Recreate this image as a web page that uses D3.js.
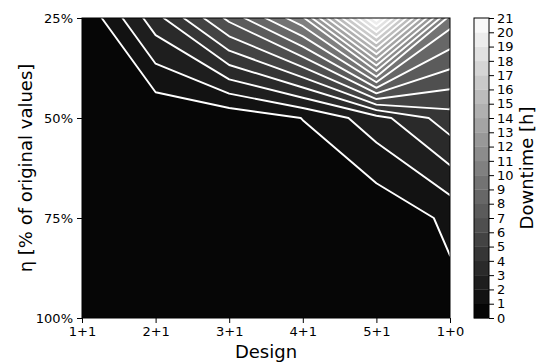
<!DOCTYPE html>
<html>
<head>
<meta charset="utf-8">
<script src="https://cdn.jsdelivr.net/npm/d3@7"></script>
<style>
  body { margin: 0; background: #fff; }
  svg { font-family: "DejaVu Sans", sans-serif; }
  .tick text { font-family: "DejaVu Sans", sans-serif; font-size: 13px; fill: #000; }
  .tick line { stroke: #000; stroke-width: 1; }
  .domain { display: none; }
</style>
</head>
<body>
<svg id="chart" width="538" height="363"></svg>
<script>
(function () {
  'use strict';

  // Designs along x, efficiency rows along y
  var designs = ['1+1', '2+1', '3+1', '4+1', '5+1', '1+0'];
  var etas = [25, 50, 75, 100];

  // Downtime [h] per row (one value per design)
  var downtime25 = [0.05, 3.6, 7.28, 10.8, 20.5, 9.55];
  var downtime50 = [0.01, 0.1, 0.3, 1.02, 2.6, 4.57];
  var downtime75 = [0.0, 0.02, 0.05, 0.1, 0.15, 1.24];
  var downtime100 = [0.0, 0.0, 0.01, 0.02, 0.05, 0.6];

  var levels = d3.range(0, 22);
  var etaTicks = [25, 50, 75, 100];

  var svg = d3.select('#chart');
  var left = 82, right = 450, top = 18, bottom = 318;

  var x = d3.scaleLinear().domain([0, designs.length - 1]).range([left, right]);
  var y = d3.scaleLinear().domain([25, 100]).range([top, bottom]);
  var rowY = d3.scaleLinear().domain([0, etas.length - 1])
    .range([y(etas[0]), y(etas[etas.length - 1])]);

  // matplotlib 'gray' colour for each filled band
  function bandColor(k) {
    var v = (k + 0.5) / (levels[levels.length - 1] - levels[0]);
    var c = Math.min(255, Math.floor(v * 256));
    return d3.rgb(c, c, c).toString();
  }

  var grid = [].concat(downtime25, downtime50, downtime75, downtime100);
  var contours = d3.contours()
    .size([designs.length, etas.length])
    .thresholds(levels.slice(0, -1))(grid);

  // grid node i sits at contour coordinate i + 0.5
  var transform = d3.geoTransform({
    point: function (px, py) {
      this.stream.point(x(px - 0.5), rowY(py - 0.5));
    }
  });
  var path = d3.geoPath().projection(transform);

  svg.append('clipPath').attr('id', 'plotClip')
    .append('rect')
      .attr('x', left).attr('y', top)
      .attr('width', right - left).attr('height', bottom - top);

  var g = svg.append('g').attr('clip-path', 'url(#plotClip)');

  g.selectAll('path.band')
    .data(contours)
    .enter().append('path')
      .attr('class', 'band')
      .attr('d', path)
      .style('fill', function (d, i) { return bandColor(i); })
      .style('stroke', function (d, i) { return bandColor(i); })
      .style('stroke-width', 0.4);

  g.selectAll('path.iso')
    .data(contours.filter(function (d) { return d.value > 0; }))
    .enter().append('path')
      .attr('class', 'iso')
      .attr('d', path)
      .style('fill', 'none')
      .style('stroke', '#fff')
      .style('stroke-width', 1.9)
      .style('stroke-linejoin', 'round');

  // Axes
  svg.append('g')
    .attr('transform', 'translate(0,' + bottom + ')')
    .call(d3.axisBottom(x)
      .tickValues(d3.range(designs.length))
      .tickFormat(function (i) { return designs[i]; })
      .tickSize(5).tickPadding(4));

  svg.append('g')
    .attr('transform', 'translate(' + left + ',0)')
    .call(d3.axisLeft(y)
      .tickValues(etaTicks)
      .tickFormat(function (d) { return d + '%'; })
      .tickSize(5).tickPadding(4));

  svg.append('rect')
    .attr('x', left).attr('y', top)
    .attr('width', right - left).attr('height', bottom - top)
    .style('fill', 'none').style('stroke', '#000').style('stroke-width', 1);

  svg.append('text')
    .attr('x', (left + right) / 2).attr('y', 358)
    .attr('text-anchor', 'middle')
    .style('font-size', '18px')
    .text('Design');

  svg.append('text')
    .attr('transform', 'translate(32,' + ((top + bottom) / 2) + ') rotate(-90)')
    .attr('text-anchor', 'middle')
    .style('font-size', '18px')
    .text('η [% of original values]');

  // Colorbar
  var cbLeft = 474, cbRight = 489;
  var cb = d3.scaleLinear().domain([levels[0], levels[levels.length - 1]]).range([bottom, top]);

  svg.append('g').selectAll('rect')
    .data(levels.slice(0, -1))
    .enter().append('rect')
      .attr('x', cbLeft)
      .attr('y', function (d) { return cb(d + 1); })
      .attr('width', cbRight - cbLeft)
      .attr('height', function (d) { return cb(d) - cb(d + 1) + 0.3; })
      .style('fill', function (d, i) { return bandColor(i); });

  svg.append('rect')
    .attr('x', cbLeft).attr('y', top)
    .attr('width', cbRight - cbLeft).attr('height', bottom - top)
    .style('fill', 'none').style('stroke', '#000').style('stroke-width', 1);

  svg.append('g')
    .attr('transform', 'translate(' + cbRight + ',0)')
    .call(d3.axisRight(cb).tickValues(levels).tickSize(5).tickPadding(3));

  svg.append('text')
    .attr('transform', 'translate(533,' + ((top + bottom) / 2) + ') rotate(-90)')
    .attr('text-anchor', 'middle')
    .style('font-size', '18px')
    .text('Downtime [h]');
}());
</script>
</body>
</html>
